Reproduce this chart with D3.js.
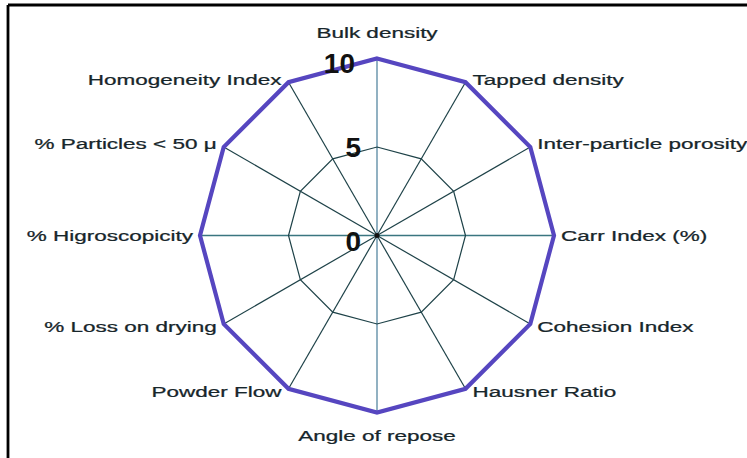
<!DOCTYPE html>
<html><head><meta charset="utf-8">
<script src="https://cdn.jsdelivr.net/npm/d3@7"></script>
<style>body{margin:0;background:#fff}svg{display:block}</style>
</head><body>
<script>
const categories = ["Bulk density","Tapped density","Inter-particle porosity","Carr Index (%)","Cohesion Index","Hausner Ratio","Angle of repose","Powder Flow","% Loss on drying","% Higroscopicity","% Particles < 50 μ","Homogeneity Index"];
const values = [10,10,10,10,10,10,10,10,10,10,10,10];
const gridLevels = [5];
const tickLabels = ["0","5","10"];
const tickValues = [0,5,10];

const W = 747, H = 458;
const cx = 377, cy = 235.5, R = 177;
const svg = d3.select("body").append("svg").attr("width", W).attr("height", H);

// frame (top & left edges)
svg.append("line").attr("x1",8).attr("y1",5).attr("x2",W).attr("y2",5).attr("stroke","#000").attr("stroke-width",2.8);
svg.append("line").attr("x1",8).attr("y1",5).attr("x2",8).attr("y2",H).attr("stroke","#000").attr("stroke-width",2.8);

const r = d3.scaleLinear().domain([0,10]).range([0,R]);
const n = categories.length;
const ang = d3.scaleLinear().domain([0,n]).range([0,2*Math.PI]);
const pt = (i, v) => [cx + r(v)*Math.sin(ang(i)), cy - r(v)*Math.cos(ang(i))];

const g = svg.append("g");

// spokes
categories.forEach((c,i) => {
  const [x,y] = pt(i,10);
  let col = "#1e4248", w = 1.2;
  if (i === 0 || i === 6) { col = "#86a9bc"; w = 1.8; }
  if (i === 3 || i === 9) { col = "#3a7680"; w = 1.6; }
  g.append("line").attr("x1",cx).attr("y1",cy).attr("x2",x).attr("y2",y)
    .attr("stroke",col).attr("stroke-width",w);
});

// grid polygon at 5
gridLevels.forEach(lv => {
  const pts = categories.map((c,i) => pt(i,lv));
  g.append("path").attr("d", d3.line()(pts) + "Z")
    .attr("fill","none").attr("stroke","#1e4248").attr("stroke-width",1.2);
});

// data polygon
const dpts = values.map((v,i) => pt(i,v));
g.append("path").attr("d", d3.line()(dpts) + "Z")
  .attr("fill","none").attr("stroke","#5646c0").attr("stroke-width",4.2).attr("stroke-linejoin","miter");

// center dot
g.append("circle").attr("cx",cx).attr("cy",cy).attr("r",2.5).attr("fill","#111");

// tick labels
tickValues.forEach((t,k) => {
  const yy = t === 0 ? cy + 5 : (t === 10 ? cy - r(t) + 4 : cy - r(t));
  const xx = t === 10 ? cx - 22 : cx - 16;
  g.append("text").attr("x", xx).attr("y", yy)
    .attr("text-anchor","end").attr("dy","0.36em")
    .attr("font-family","Liberation Sans, Arial, sans-serif")
    .attr("font-weight","bold").attr("font-size",28).attr("fill","#111")
    .text(tickLabels[k]);
});

// category labels
categories.forEach((c,i) => {
  const [x,y] = pt(i,10);
  const s = Math.sin(ang(i)), co = Math.cos(ang(i));
  let anchor = "middle", dx = 0, dy = 0;
  if (Math.abs(s) < 0.01) { dy = co > 0 ? -26 : 23; }
  else if (s > 0) { anchor = "start"; dx = 7; }
  else { anchor = "end"; dx = -7; }
  if (Math.abs(s) > 0.01 && Math.abs(co) > 0.01) dy = co > 0 ? -3 : 3;
  const tx = x + dx, ty = y + dy;
  g.append("text")
    .attr("transform", `translate(${tx},${ty}) scale(1.5,1)`)
    .attr("text-anchor", anchor).attr("dy","0.36em")
    .attr("font-family","Liberation Sans, Arial, sans-serif")
    .attr("font-size",15).attr("fill","#17262b")
    .attr("stroke","#17262b").attr("stroke-width",0.25)
    .text(c);
});
</script>
</body></html>
